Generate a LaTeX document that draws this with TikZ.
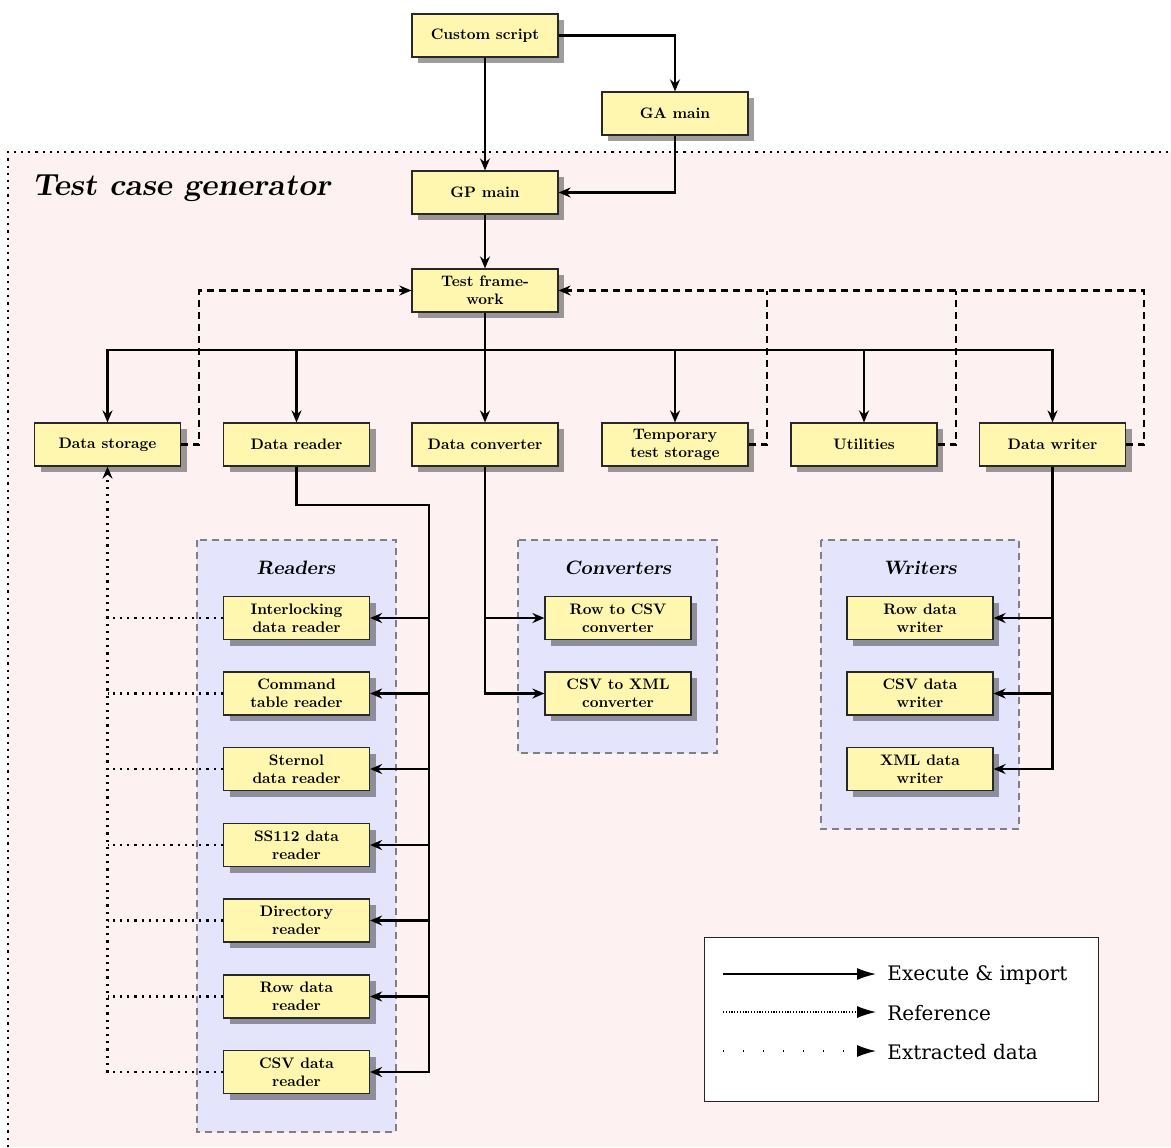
\documentclass[tikz,border=0pt]{standalone}
\usepackage{fontspec}
\newfontfamily\legendfont{DejaVu Serif}
\newfontfamily\modulefont{lmroman10-bold.otf}
\usetikzlibrary{arrows.meta,shadows,calc}

\definecolor{boxyellow}{RGB}{255,246,176}
\definecolor{regionpink}{RGB}{253,241,241}
\definecolor{groupblue}{RGB}{228,228,252}
\definecolor{groupedge}{RGB}{128,128,128}
\definecolor{boxedge}{RGB}{40,40,40}

\tikzset{
  module/.style={draw=boxedge, line width=0.6pt, fill=boxyellow,
    minimum width=73pt, minimum height=21.5pt, inner sep=1pt,
    font=\modulefont\fontsize{7.6}{9}\selectfont, align=center, text=black,
    general shadow={fill=black, opacity=0.38, shadow xshift=3.2pt, shadow yshift=-3pt}},
  group/.style={draw=groupedge, fill=groupblue, line width=0.8pt,
    dash pattern=on 3.5pt off 2.5pt},
  grouptitle/.style={font=\fontsize{9.7}{11}\selectfont\bfseries\slshape},
  tip/.style={-{Stealth[length=6pt,width=5pt,inset=2pt]}},
  exec/.style={line width=1.1pt, tip},
  refline/.style={line width=1.1pt, dash pattern=on 3.5pt off 2.5pt},
  ref/.style={refline, tip},
  extractline/.style={line width=1.1pt, dash pattern=on 1.1pt off 2.5pt},
  extract/.style={extractline, tip},
  legendtip/.style={-{Latex[length=9.5pt,width=6pt]}},
  legendtext/.style={anchor=west, inner sep=0pt, font=\legendfont\fontsize{10}{12}\selectfont},
}

\begin{document}
\begin{tikzpicture}[x=0.5pt,y=-0.5pt]
  \useasboundingbox (0,0) rectangle (1171,1147);

  % generator region
  \fill[regionpink] (8,152) rectangle (1171,1147);
  \draw[line width=1.1pt, dash pattern=on 1.1pt off 2.5pt] (8,1147) -- (8,152) -- (1171,152);
  \node[anchor=base west, inner sep=0pt, font=\fontsize{15.3}{18}\selectfont\bfseries\slshape]
    (title) at (32,195) {Test case generator};

  % module groups
  \draw[group] (197,540) rectangle (396,1132);
  \draw[group] (518,540) rectangle (717,753);
  \draw[group] (821,540) rectangle (1019,829);
  \node[grouptitle] (readers) at (296,568) {Readers};
  \node[grouptitle] (converters) at (618,568) {Converters};
  \node[grouptitle] (writers) at (920,568) {Writers};

  % top level
  \node[module] (cs) at (485,35.5) {Custom script};
  \node[module] (ga) at (675,113.5) {GA main};
  \node[module] (gp) at (485,192.5) {GP main};
  \node[module] (tf) at (485,290.5) {Test frame-\\work};

  % second level
  \node[module] (ds)  at (107.5,444.5) {Data storage};
  \node[module] (dr)  at (296.5,444.5) {Data reader};
  \node[module] (dc)  at (485,444.5) {Data converter};
  \node[module] (tmp) at (675,444.5) {Temporary\\test storage};
  \node[module] (ut)  at (864,444.5) {Utilities};
  \node[module] (dw)  at (1052.5,444.5) {Data writer};

  % readers
  \node[module] (r1) at (296.5,618) {Interlocking\\data reader};
  \node[module] (r2) at (296.5,693.5) {Command\\table reader};
  \node[module] (r3) at (296.5,769) {Sternol\\data reader};
  \node[module] (r4) at (296.5,845) {SS112 data\\reader};
  \node[module] (r5) at (296.5,920.5) {Directory\\reader};
  \node[module] (r6) at (296.5,996.5) {Row data\\reader};
  \node[module] (r7) at (296.5,1072) {CSV data\\reader};

  % converters
  \node[module] (c1) at (618,618) {Row to CSV\\converter};
  \node[module] (c2) at (618,693.5) {CSV to XML\\converter};

  % writers
  \node[module] (w1) at (920,618) {Row data\\writer};
  \node[module] (w2) at (920,693.5) {CSV data\\writer};
  \node[module] (w3) at (920,769) {XML data\\writer};

  % routing points
  \coordinate (bus) at (485,350);
  \coordinate (rtrunk) at (429,505);

  % execute & import
  \draw[exec] (cs.south) -- (gp.north);
  \draw[exec] (cs.east) -| (ga.north);
  \draw[exec] (ga.south) |- (gp.east);
  \draw[exec] (gp.south) -- (tf.north);
  \foreach \n in {ds,dr,dc,tmp,ut,dw}
    \draw[exec] (tf.south) -- (bus) -| (\n.north);
  \foreach \n in {r1,r2,r3,r4,r5,r6,r7}
    \draw[exec] (dr.south) |- (rtrunk) -- (rtrunk |- \n.east) -- (\n.east);
  \foreach \n in {c1,c2}
    \draw[exec] (dc.south) |- (\n.west);
  \foreach \n in {w1,w2,w3}
    \draw[exec] (dw.south) |- (\n.east);

  % references back to the test framework
  \draw[ref] (ds.east) -- ++(18,0) |- (tf.west);
  \draw[ref] (dw.east) -- ++(18,0) |- (tf.east);
  \foreach \n in {tmp,ut}
    \draw[refline] (\n.east) -- ++(18,0) coordinate (k\n) -- (k\n |- tf.east);

  % extracted data into storage
  \draw[extract] (r7.west) -| (ds.south);
  \foreach \n in {r1,r2,r3,r4,r5,r6}
    \draw[extractline] (\n.west) -- (ds.south |- \n.west);

  % legend
  \node[draw=black!85, fill=white, line width=0.6pt, minimum width=197pt, minimum height=82pt,
        anchor=north west, inner sep=0pt] (legend) at (704,937) {};
  \coordinate (l1a) at (723,974);  \coordinate (l1b) at (876,974);
  \coordinate (l2a) at (723,1012); \coordinate (l2b) at (876,1012);
  \coordinate (l3a) at (723,1051); \coordinate (l3b) at (876,1051);
  \draw[legendtip, line width=0.8pt] (l1a) -- (l1b);
  \draw[legendtip, line width=0.6pt, dash pattern=on 0.6pt off 0.8pt] (l2a) -- (l2b);
  \draw[legendtip, line width=0.7pt, dash pattern=on 0.7pt off 9.3pt] (l3a) -- (l3b);
  \node[legendtext] (t1) at (887,975) {Execute \& import};
  \node[legendtext] (t2) at (887,1013) {Reference};
  \node[legendtext] (t3) at (887,1052) {Extracted data};
\end{tikzpicture}
\end{document}
